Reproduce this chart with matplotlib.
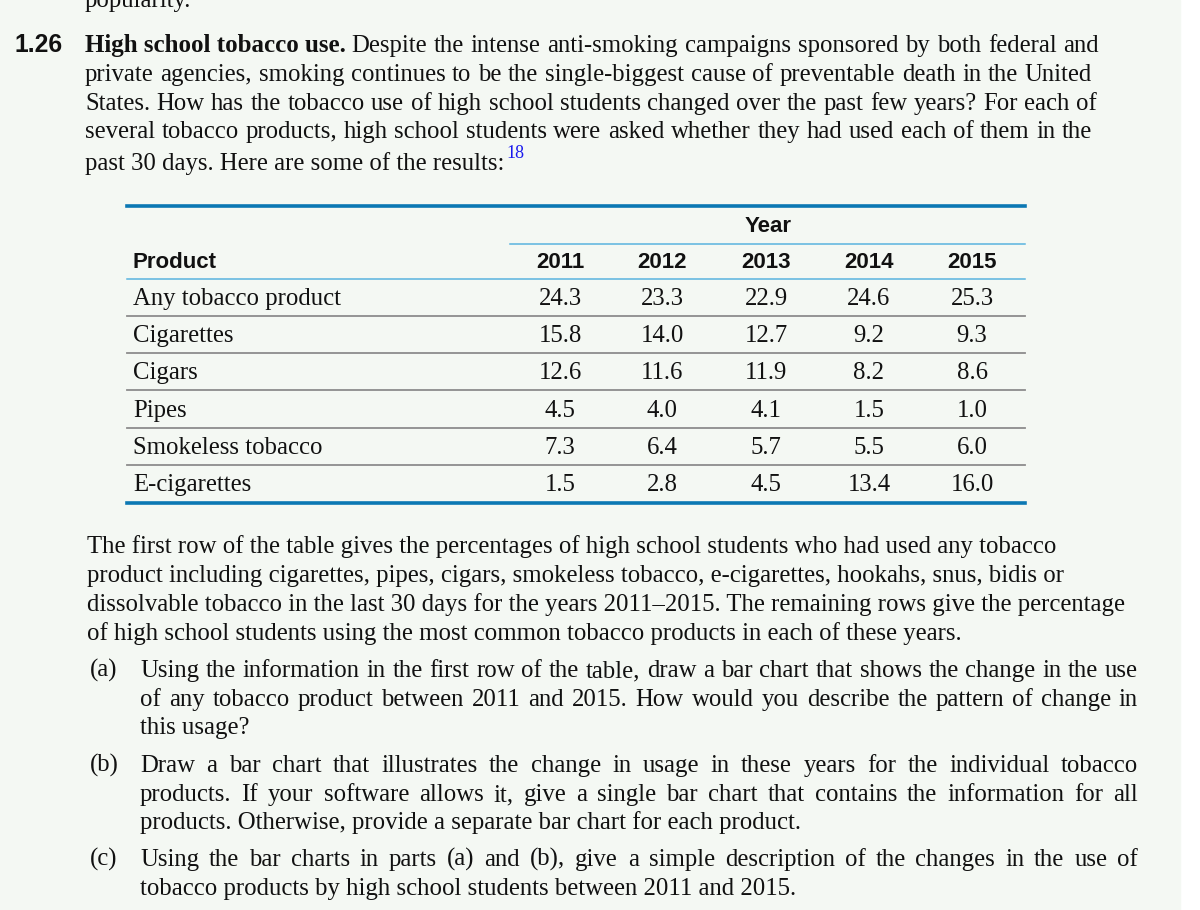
import matplotlib.pyplot as plt
from matplotlib.patches import Rectangle

# table data
years = ["2011", "2012", "2013", "2014", "2015"]
products = ["Any tobacco product", "Cigarettes", "Cigars", "Pipes",
            "Smokeless tobacco", "E-cigarettes"]
any_tobacco = [24.3, 23.3, 22.9, 24.6, 25.3]
cigarettes = [15.8, 14.0, 12.7, 9.2, 9.3]
cigars = [12.6, 11.6, 11.9, 8.2, 8.6]
pipes = [4.5, 4.0, 4.1, 1.5, 1.0]
smokeless = [7.3, 6.4, 5.7, 5.5, 6.0]
e_cigarettes = [1.5, 2.8, 4.5, 13.4, 16.0]
rows = [any_tobacco, cigarettes, cigars, pipes, smokeless, e_cigarettes]

intro_lines = [
    "Despite the intense anti-smoking campaigns sponsored by both federal and",
    "private agencies, smoking continues to be the single-biggest cause of preventable death in the United",
    "States. How has the tobacco use of high school students changed over the past few years? For each of",
    "several tobacco products, high school students were asked whether they had used each of them in the",
    "past 30 days. Here are some of the results:",
]
note_lines = [
    "The first row of the table gives the percentages of high school students who had used any tobacco",
    "product including cigarettes, pipes, cigars, smokeless tobacco, e-cigarettes, hookahs, snus, bidis or",
    "dissolvable tobacco in the last 30 days for the years 2011\u20132015. The remaining rows give the percentage",
    "of high school students using the most common tobacco products in each of these years.",
]
parts = [
    ("(a)", ["Using the information in the first row of the table, draw a bar chart that shows the change in the use",
             "of any tobacco product between 2011 and 2015. How would you describe the pattern of change in",
             "this usage?"]),
    ("(b)", ["Draw a bar chart that illustrates the change in usage in these years for the individual tobacco",
             "products. If your software allows it, give a single bar chart that contains the information for all",
             "products. Otherwise, provide a separate bar chart for each product."]),
    ("(c)", ["Using the bar charts in parts (a) and (b), give a simple description of the changes in the use of",
             "tobacco products by high school students between 2011 and 2015."]),
]

SERIF = "Liberation Serif"
SANS = "Liberation Sans"
BODY = 17.85
CELL = 17.8
HEAD = 16.0
INK = "#111111"

fig = plt.figure(figsize=(12, 9.1), dpi=100, facecolor="white")
ax = fig.add_axes([0, 0, 1, 1])
ax.set_xlim(0, 1200)
ax.set_ylim(910, 0)
ax.axis("off")
ax.add_patch(Rectangle((0, 0), 1180, 910, color="#f4f8f3", zorder=0))
r = fig.canvas.get_renderer()


def width(t):
    return t.get_window_extent(r).width


def put(s, x, y, right=None, **kw):
    opts = dict(family=SERIF, fontsize=BODY, color=INK, va="baseline")
    opts.update(kw)
    if right is None:
        return ax.text(x, y, s, **opts)
    words = s.split(" ")
    ts = [ax.text(0, y, w, **opts) for w in words]
    ws = [width(t) for t in ts]
    gap = (right - x - sum(ws)) / (len(words) - 1)
    cx = x
    for t, w in zip(ts, ws):
        t.set_x(cx)
        cx += w + gap
    return ts[-1]


# top of page (previous exercise runs off the top edge)
put("popularity.", 85, 7)
ax.text(15, 52, "1.26", family=SANS, fontweight="bold", fontsize=17.8,
        color=INK, va="baseline")
b = put("High school tobacco use.", 85, 52, fontweight="bold", fontsize=18)
x0 = 85 + width(b) + 5
intro_y = [52, 81, 110, 138, 170]
intro_right = [1099, 1092, 1097, 1092, None]
for i, (s, y, rt) in enumerate(zip(intro_lines, intro_y, intro_right)):
    t = put(s, x0 if i == 0 else 85, y, rt)
ax.text(85 + width(t) + 2, 158, "18", family=SERIF, fontsize=13,
        color="#1a1aee", va="baseline")

# table
col_x = [560, 662, 766, 869, 972]
row_y = [305, 342, 379, 417, 454, 491]
L, R = 127, 1025
ax.plot([L, R], [206, 206], color="#0b78b3", lw=2.6)
ax.text(768, 232, "Year", family=SANS, fontweight="bold", fontsize=HEAD,
        ha="center", va="baseline", color=INK)
ax.plot([510, R], [244, 244], color="#5ab3df", lw=1.1)
ax.text(133, 268, "Product", family=SANS, fontweight="bold", fontsize=HEAD,
        va="baseline", color=INK)
for x, yr in zip(col_x, years):
    ax.text(x, 268, yr, family=SANS, fontweight="bold", fontsize=HEAD,
            ha="center", va="baseline", color=INK)
ax.plot([L, R], [279, 279], color="#5ab3df", lw=1.1)
for i, (name, vals, y) in enumerate(zip(products, rows, row_y)):
    put(name, 133, y, fontsize=CELL)
    for x, v in zip(col_x, vals):
        put(f"{v:.1f}", x, y, ha="center", fontsize=CELL)
    if i < len(products) - 1:
        ax.plot([L, R], [y + 11, y + 11], color="#8c8c8c", lw=1.3)
ax.plot([L, R], [503, 503], color="#0b78b3", lw=2.6)

# notes below table
for s, y in zip(note_lines, [553, 582, 611, 640]):
    put(s, 87, y)

part_y = [[677, 706, 734], [772, 801, 829], [866, 895]]
for (lab, lines), ys in zip(parts, part_y):
    put(lab, 90, ys[0])
    for j, (s, y) in enumerate(zip(lines, ys)):
        put(s, 140, y, 1138 if j < len(lines) - 1 else None)

fig.savefig("out.png", dpi=100, facecolor="white")
